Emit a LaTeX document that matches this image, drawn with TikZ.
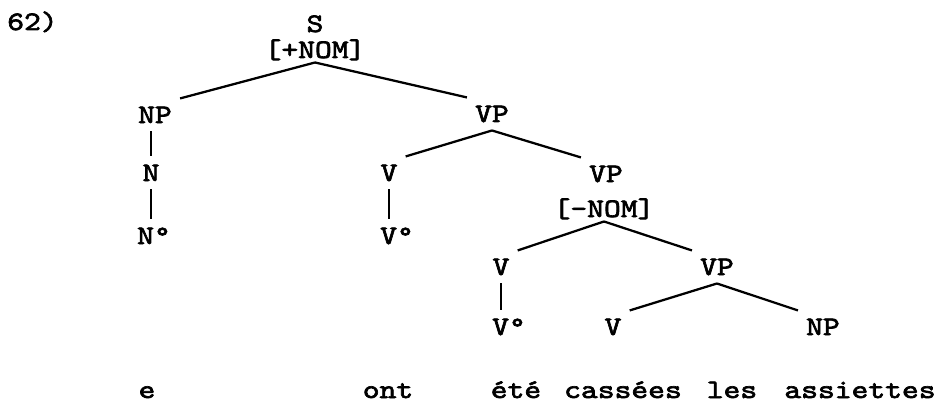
\documentclass[tikz,border=0pt]{standalone}
\usepackage{fontspec}
\setmonofont{lmmono10-regular.otf}[FakeStretch=1.2, FakeBold=2.5]

\begin{document}
\begin{tikzpicture}[x=0.75pt, y=-0.75pt, every node/.style={anchor=base, inner xsep=6pt, inner ysep=6pt, font=\ttfamily\fontsize{20}{24}\selectfont}, tratto/.style={inner ysep=1.5pt}]
			\useasboundingbox (0,0) rectangle (942,403);
			% Numero dell'esempio
			\node (num) at (7, 30) [anchor=base west, inner xsep=0pt] {62)};
			
			% Nodi dell'albero
			\node (S) at (315, 32) {S};
			\node (Sf) at (315, 58) [tratto] {[+NOM]};
			\node (NPa) at (155, 123) {NP};
			\node (VPa) at (492, 122) {VP};
			\node (Na) at (151, 181) {N};
			\node (Va) at (389, 181) {V};
			\node (VPb) at (606, 182) {VP};
			\node (VPbf) at (604, 217) [tratto] {[-NOM]};
			\node (Nb) at (154, 244) {N°};
			\node (Vb) at (397, 244) {V°};
			\node (Vc) at (501, 275) {V};
			\node (VPc) at (717, 275) {VP};
			\node (Vd) at (509, 335) {V°};
			\node (Ve) at (613, 335) {V};
			\node (NPb) at (823, 335) {NP};
			
			% Parole della frase
			\node (w1) at (147, 398) {e};
			\node (w2) at (388, 398) {ont};
			\node (w3) at (516, 398) {été};
			\node (w4) at (623, 398) {cassées};
			\node (w5) at (732, 398) {les};
			\node (w6) at (860, 398) {assiettes};
			
			% Rami
			\draw[line width=1.7pt] (Sf.south) -- (NPa.north east);
			\draw[line width=1.7pt] (Sf.south) -- (VPa.north west);
			\draw[line width=1.7pt] (NPa.south -| Na.north) -- (Na.north);
			\draw[line width=1.7pt] (Na.south) -- (Na.south |- Nb.north);
			\draw[line width=1.7pt] (VPa.south) -- (Va.north east);
			\draw[line width=1.7pt] (VPa.south) -- (VPb.north west);
			\draw[line width=1.7pt] (Va.south) -- (Va.south |- Vb.north);
			\draw[line width=1.7pt] (VPbf.south) -- (Vc.north east);
			\draw[line width=1.7pt] (VPbf.south) -- (VPc.north west);
			\draw[line width=1.7pt] (Vc.south) -- (Vc.south |- Vd.north);
			\draw[line width=1.7pt] (VPc.south) -- (Ve.north east);
			\draw[line width=1.7pt] (VPc.south) -- (NPb.north west);
		\end{tikzpicture}
\end{document}
